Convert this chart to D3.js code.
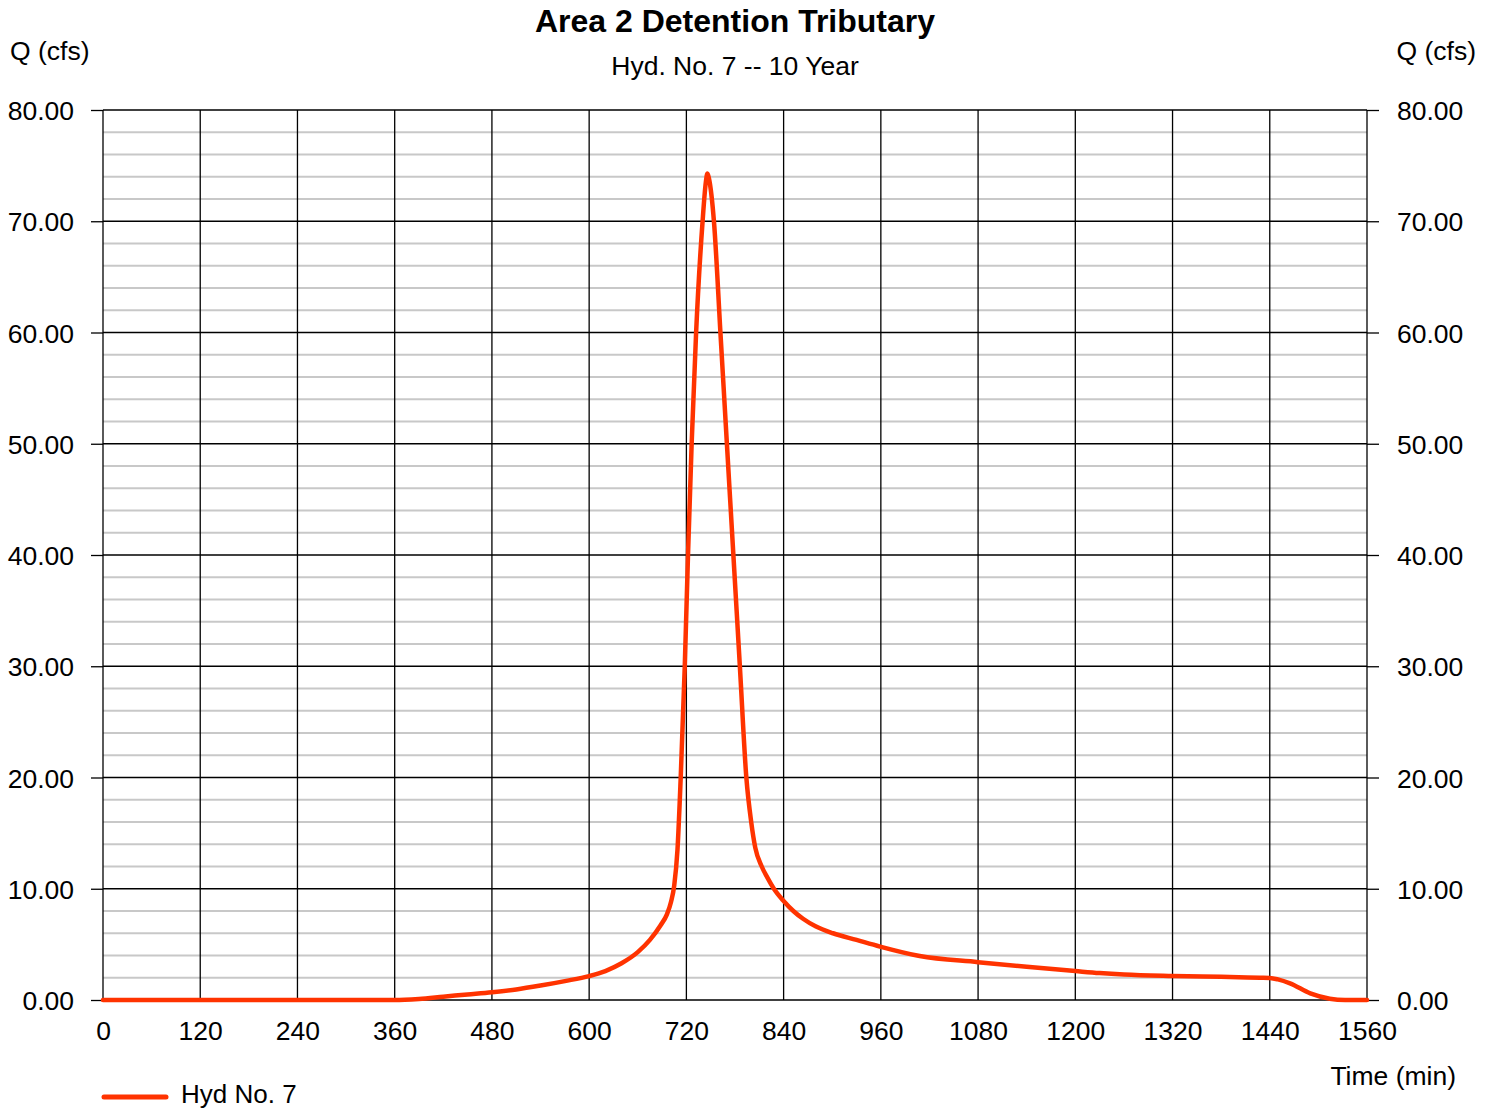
<!DOCTYPE html>
<html>
<head>
<meta charset="utf-8">
<script src="https://cdn.jsdelivr.net/npm/d3@7"></script>
<style>
  html, body { margin: 0; padding: 0; background: #fff; }
  svg { display: block; font-family: "Liberation Sans", Arial, sans-serif; }
</style>
</head>
<body>
<svg id="chart" width="1494" height="1110"></svg>
<script>
// ---- Data ----
const chartTitle = "Area 2 Detention Tributary";
const chartSubtitle = "Hyd. No. 7 -- 10 Year";
const seriesName = "Hyd No. 7";
const xTicks = [0, 120, 240, 360, 480, 600, 720, 840, 960, 1080, 1200, 1320, 1440, 1560];
const yTicks = [0, 10, 20, 30, 40, 50, 60, 70, 80];
const yMinorStep = 2;
const timeMin = [0, 120, 240, 360, 390, 420, 450, 480, 510, 540, 570, 600, 620, 640, 660, 675, 688, 696, 701, 705, 709, 713, 718, 722, 726.5, 732, 740, 744, 746, 748, 754, 762, 770, 778, 786, 794, 800, 805, 813, 820, 828, 840, 852, 864, 880, 901, 930, 959, 1008, 1080, 1140, 1200, 1230, 1260, 1320, 1380, 1428, 1440, 1450, 1465, 1490, 1514, 1533, 1560];
const flowCfs = [0, 0, 0, 0, 0.1, 0.3, 0.5, 0.7, 0.95, 1.3, 1.7, 2.15, 2.6, 3.3, 4.3, 5.4, 6.7, 7.7, 8.8, 10.3, 13.5, 20, 30, 40, 50, 60, 70, 73.5, 74.3, 73.8, 70, 60, 50, 40, 30, 20, 16, 13.7, 12, 11.0, 10.0, 8.9, 8.0, 7.3, 6.6, 6.0, 5.4, 4.8, 3.95, 3.4, 2.98, 2.6, 2.42, 2.29, 2.16, 2.08, 2.0, 1.98, 1.85, 1.5, 0.6, 0.12, 0, 0];

(function () {
// ---- Layout ----
const svg = d3.select("#chart");
const pL = 103, pR = 1367, pT = 110, pB = 1000;
const x = d3.scaleLinear().domain([0, 1560]).range([pL, pR]);
const y = d3.scaleLinear().domain([0, 80]).range([pB, pT]);
const fs = 26.5;
const lineColor = "#ff3300";

// minor horizontal grid
const minor = d3.range(0, 80 + 1e-9, yMinorStep).filter(v => v % 10 !== 0);
svg.append("g").selectAll("line").data(minor).join("line")
  .attr("x1", pL).attr("x2", pR)
  .attr("y1", d => y(d)).attr("y2", d => y(d))
  .attr("stroke", "#c8c8c8").attr("stroke-width", 2);

// major horizontal grid
svg.append("g").selectAll("line").data(yTicks).join("line")
  .attr("x1", pL).attr("x2", pR)
  .attr("y1", d => y(d)).attr("y2", d => y(d))
  .attr("stroke", "#000").attr("stroke-width", 1.3);

// vertical grid
svg.append("g").selectAll("line").data(xTicks).join("line")
  .attr("x1", d => x(d)).attr("x2", d => x(d))
  .attr("y1", pT).attr("y2", pB)
  .attr("stroke", "#000").attr("stroke-width", 1.3);

// axes
const fmt = d3.format(".2f");
const gl = svg.append("g").attr("transform", `translate(${pL},0)`)
  .call(d3.axisLeft(y).tickValues(yTicks).tickSize(12).tickPadding(17).tickFormat(fmt));
const gr = svg.append("g").attr("transform", `translate(${pR},0)`)
  .call(d3.axisRight(y).tickValues(yTicks).tickSize(12).tickPadding(18).tickFormat(fmt));
const gb = svg.append("g").attr("transform", `translate(0,${pB})`)
  .call(d3.axisBottom(x).tickValues(xTicks).tickSize(0).tickPadding(21).tickFormat(d3.format("d")));
[gl, gr, gb].forEach(g => {
  g.select(".domain").remove();
  g.selectAll(".tick line").attr("stroke", "#000").attr("stroke-width", 1.3);
  g.selectAll("text").attr("font-size", fs).attr("fill", "#000")
    .attr("font-family", "'Liberation Sans', Arial, sans-serif");
});
gl.selectAll("text").attr("dy", "0.36em");
gr.selectAll("text").attr("dy", "0.36em");

// series line
const pts = timeMin.map((t, i) => [t, flowCfs[i]]);
const line = d3.line().x(d => x(d[0])).y(d => y(d[1])).curve(d3.curveMonotoneX);
svg.append("path").datum(pts)
  .attr("d", line)
  .attr("fill", "none")
  .attr("stroke", lineColor)
  .attr("stroke-width", 4.5)
  .attr("stroke-linejoin", "round")
  .attr("stroke-linecap", "round");

// titles
svg.append("text").attr("x", 735).attr("y", 32).attr("text-anchor", "middle")
  .attr("font-size", 32).attr("font-weight", "bold").text(chartTitle);
svg.append("text").attr("x", 735).attr("y", 75).attr("text-anchor", "middle")
  .attr("font-size", fs).text(chartSubtitle);
svg.append("text").attr("x", 10).attr("y", 60).attr("font-size", fs).text("Q (cfs)");
svg.append("text").attr("x", 1476).attr("y", 60).attr("text-anchor", "end").attr("font-size", fs).text("Q (cfs)");
svg.append("text").attr("x", 1456).attr("y", 1085).attr("text-anchor", "end").attr("font-size", fs).text("Time (min)");

// legend
svg.append("line").attr("x1", 104).attr("x2", 166).attr("y1", 1097).attr("y2", 1097)
  .attr("stroke", lineColor).attr("stroke-width", 5).attr("stroke-linecap", "round");
svg.append("text").attr("x", 181).attr("y", 1103).attr("font-size", 26).text(seriesName);
})();
</script>
</body>
</html>
